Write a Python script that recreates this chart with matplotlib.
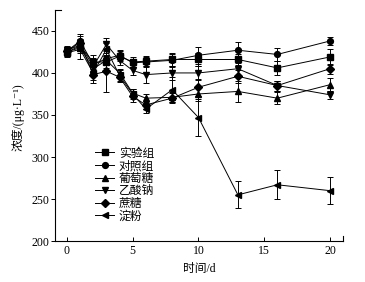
# Concentration over time, six treatment groups with error bars.
import matplotlib
matplotlib.use('Agg')
import matplotlib.pyplot as plt

plt.rcParams['font.family'] = ['Liberation Serif', 'Noto Sans CJK SC', 'DejaVu Sans']
plt.rcParams['axes.unicode_minus'] = False

# Sampling days
days = [0, 1, 2, 3, 4, 5, 6, 8, 10, 13, 16, 20]

labels = ['实验组', '对照组', '葡萄糖', '乙酸钠', '蔗糖', '淀粉']
markers = ['s', 'o', '^', 'v', 'D', '<']

shiyan = [425, 432, 413, 413, 420, 413, 414, 416, 416, 416, 406, 419]
duizhao = [426, 438, 410, 417, 421, 412, 413, 415, 421, 427, 422, 438]
putaotang = [425, 430, 405, 415, 400, 376, 370, 371, 375, 378, 370, 386]
yisuanna = [427, 433, 408, 434, 415, 403, 398, 400, 400, 405, 385, 374]
zhetang = [426, 436, 398, 402, 395, 372, 362, 370, 383, 396, 385, 405]
dianfen = [424, 428, 400, 428, 397, 375, 357, 380, 347, 255, 267, 260]

shiyan_err = [5, 6, 8, 7, 6, 6, 6, 8, 8, 6, 8, 10]
duizhao_err = [5, 8, 8, 7, 6, 5, 6, 8, 10, 10, 8, 5]
putaotang_err = [5, 6, 6, 6, 5, 5, 5, 6, 8, 13, 7, 8]
yisuanna_err = [5, 6, 7, 8, 6, 6, 10, 8, 8, 7, 6, 5]
zhetang_err = [5, 8, 10, 25, 6, 6, 5, 6, 10, 8, 6, 6]
dianfen_err = [5, 12, 8, 8, 6, 6, 5, 15, 22, 16, 17, 16]

series = [shiyan, duizhao, putaotang, yisuanna, zhetang, dianfen]
errors = [shiyan_err, duizhao_err, putaotang_err, yisuanna_err, zhetang_err, dianfen_err]

fig = plt.figure(figsize=(3.65, 2.82), dpi=100)
ax = fig.add_axes([0.151, 0.145, 0.789, 0.82])

for y, e, m, lab in zip(series, errors, markers, labels):
    ax.errorbar(days, y, yerr=e, marker=m, color='black', markersize=4.2,
                linewidth=0.7, elinewidth=0.7, capsize=2.5, capthick=0.7,
                label=lab)

ax.set_xlim(-0.9, 21)
ax.set_ylim(200, 475)
ax.set_xticks([0, 5, 10, 15, 20])
ax.set_yticks([200, 250, 300, 350, 400, 450])

ax.spines['top'].set_visible(False)
ax.spines['right'].set_visible(False)
ax.spines['left'].set_linewidth(0.8)
ax.spines['bottom'].set_linewidth(0.8)
ax.tick_params(axis='x', direction='in', length=3, width=0.7, labelsize=8.5, pad=3)
ax.tick_params(axis='y', direction='out', length=3, width=0.7, labelsize=8.5, pad=1)

# small caps at the ends of the axes
ax.plot([0, 0.02], [1, 1], transform=ax.transAxes, color='black', linewidth=0.8, clip_on=False)
ax.plot([1, 1], [0, 0.02], transform=ax.transAxes, color='black', linewidth=0.8, clip_on=False)

ax.set_xlabel('时间/d', fontsize=8.5, labelpad=4)
ax.set_ylabel('浓度/(μg·L⁻¹)', fontsize=8.5)
ax.yaxis.set_label_coords(-0.105, 0.535)

handles, labs = ax.get_legend_handles_labels()
handles = [h[0] for h in handles]
ax.legend(handles, labs, loc='upper left', bbox_to_anchor=(0.11, 0.44),
          frameon=False, fontsize=8.5, handlelength=1.6, handletextpad=0.4,
          labelspacing=0.05, borderpad=0.2)

plt.savefig('out.png', dpi=100)
